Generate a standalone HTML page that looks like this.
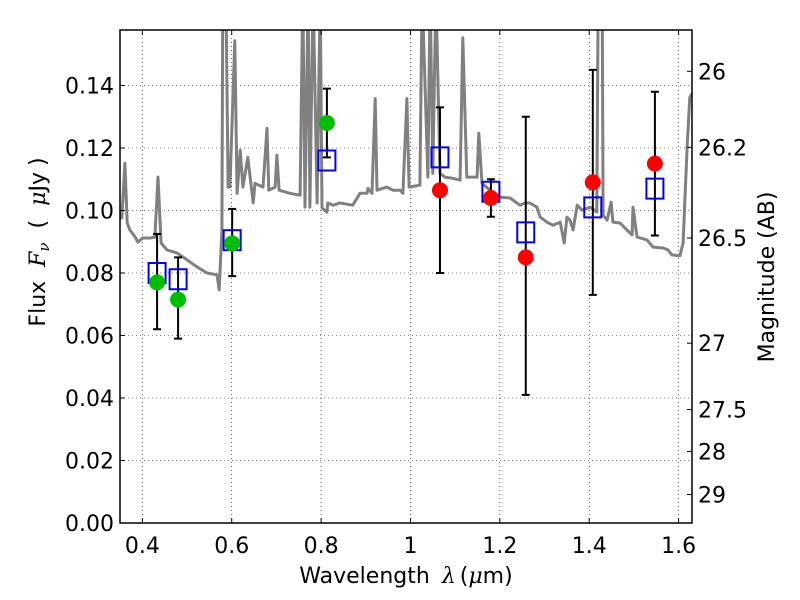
<!DOCTYPE html>
<html><head><meta charset="utf-8"><style>
html,body{margin:0;padding:0;background:#fff;}
svg{display:block;font-family:"DejaVu Sans","Liberation Sans",sans-serif;}
</style></head><body>
<svg id="chart" width="800" height="600" viewBox="0 0 800 600">
<rect width="800" height="600" fill="#fff"/>
<g id="grid"></g>
<g id="plot"></g>
<g id="axes"></g>
<text x="406" y="583" font-size="22" text-anchor="middle">Wavelength<tspan dx="12" font-family="DejaVu Serif" font-style="italic">λ</tspan><tspan dx="4">(</tspan><tspan font-family="DejaVu Serif" font-style="italic">μ</tspan>m)</text>
<text transform="translate(45,242) rotate(-90)" font-size="22" text-anchor="middle">Flux<tspan dx="14" font-family="DejaVu Serif" font-style="italic">F<tspan font-size="15" dy="4">ν</tspan></tspan><tspan dx="14" dy="-4">(</tspan><tspan dx="14" font-family="DejaVu Serif" font-style="italic">μ</tspan>Jy<tspan dx="6">)</tspan></text>
<text transform="translate(774,277) rotate(-90)" font-size="22" text-anchor="middle">Magnitude (AB)</text>
</svg>
<script>
const specX=[0.350,0.354,0.361,0.366,0.372,0.384,0.390,0.401,0.417,0.428,0.435,0.442,0.455,0.478,0.500,0.522,0.545,0.567,0.572,0.578,0.580,0.587,0.592,0.596,0.607,0.612,0.619,0.625,0.636,0.643,0.648,0.652,0.670,0.679,0.683,0.697,0.701,0.706,0.730,0.753,0.759,0.764,0.771,0.775,0.782,0.791,0.798,0.802,0.813,0.815,0.827,0.842,0.871,0.887,0.903,0.905,0.914,0.921,0.925,0.947,0.961,0.977,0.983,0.992,0.997,1.021,1.026,1.039,1.044,1.050,1.057,1.066,1.077,1.095,1.111,1.117,1.126,1.149,1.153,1.160,1.178,1.200,1.223,1.245,1.256,1.267,1.283,1.290,1.305,1.319,1.335,1.344,1.350,1.357,1.364,1.373,1.384,1.402,1.417,1.420,1.429,1.431,1.440,1.449,1.453,1.469,1.484,1.496,1.498,1.507,1.529,1.543,1.565,1.576,1.585,1.603,1.610,1.619,1.625,1.630];
const specY=[0.0979,0.0976,0.1151,0.0960,0.0938,0.0915,0.0899,0.0912,0.0912,0.0915,0.1107,0.0896,0.0874,0.0864,0.0842,0.0820,0.0800,0.0794,0.0746,0.0938,0.17,0.17,0.1075,0.1075,0.1543,0.1055,0.1193,0.1075,0.1170,0.1087,0.1024,0.1087,0.1075,0.1263,0.1065,0.1075,0.1177,0.1065,0.1055,0.1049,0.17,0.1011,0.17,0.1011,0.17,0.1024,0.17,0.1008,0.0995,0.1024,0.1017,0.1024,0.1017,0.1055,0.1055,0.1071,0.1055,0.1358,0.1065,0.1075,0.1065,0.1065,0.1055,0.1358,0.1075,0.1081,0.17,0.1107,0.17,0.1119,0.17,0.1119,0.1107,0.1103,0.1097,0.1553,0.1107,0.1107,0.1247,0.1087,0.1065,0.1043,0.1040,0.1017,0.1024,0.1024,0.1011,0.0979,0.0963,0.0953,0.0963,0.0896,0.0979,0.0969,0.0938,0.1017,0.1001,0.1011,0.0995,0.17,0.17,0.0985,0.0969,0.1027,0.0963,0.0960,0.0938,0.0922,0.1011,0.0915,0.0906,0.0883,0.0880,0.0874,0.0858,0.0855,0.0896,0.1202,0.1362,0.1374];
const obsX=[0.433,0.480,0.601,0.813,1.066,1.180,1.258,1.408,1.547];
const obsY=[0.077,0.0715,0.0895,0.128,0.1065,0.104,0.085,0.109,0.115];
const obsLo=[0.062,0.059,0.079,0.117,0.080,0.098,0.041,0.073,0.092];
const obsHi=[0.0925,0.085,0.1005,0.139,0.133,0.110,0.130,0.145,0.138];
const obsColor=['#00bf00','#00bf00','#00bf00','#00bf00','#ff0000','#ff0000','#ff0000','#ff0000','#ff0000'];
const modelY=[0.080,0.078,0.0905,0.116,0.117,0.106,0.093,0.101,0.107];
const xTicks=[0.4,0.6,0.8,1.0,1.2,1.4,1.6];
const xTickLabels=['0.4','0.6','0.8','1','1.2','1.4','1.6'];
const yTicks=[0,0.02,0.04,0.06,0.08,0.10,0.12,0.14];
const yTickLabels=['0.00','0.02','0.04','0.06','0.08','0.10','0.12','0.14'];
const magTicks=[26,26.2,26.5,27,27.5,28,29];
const magTickLabels=['26','26.2','26.5','27','27.5','28','29'];

const L=120,R=692,T=30,B=523,X0=0.35,X1=1.63,Y0=0,Y1=(523-30)/3125;
const sx=v=>L+(v-X0)/(X1-X0)*(R-L);
const sy=v=>B-(v-Y0)/(Y1-Y0)*(B-T);
const magToFlux=m=>Math.pow(10,(23.9-m)/2.5);
const NS='http://www.w3.org/2000/svg';
function mk(parent,tag,attrs){const e=document.createElementNS(NS,tag);for(const k in attrs)e.setAttribute(k,attrs[k]);parent.appendChild(e);return e;}
const grid=document.getElementById('grid'),plot=document.getElementById('plot'),axes=document.getElementById('axes');

const defs=mk(document.getElementById('chart'),'defs',{});
const cp=mk(defs,'clipPath',{id:'clip'});mk(cp,'rect',{x:L,y:T,width:R-L,height:B-T});
plot.setAttribute('clip-path','url(#clip)');

xTicks.forEach((t,i)=>{
  const g=mk(grid,'line',{x1:sx(t),x2:sx(t),y1:T,y2:B,stroke:'#000','stroke-width':0.6,'stroke-dasharray':'1,3'});
  
  
  [[B,B-5],[T,T+5]].forEach(p=>{const tk=mk(axes,'line',{x1:sx(t),x2:sx(t),y1:p[0],y2:p[1],stroke:'#000','stroke-width':1});
    
    });
  const lb=mk(axes,'text',{x:sx(t),y:B+30,'font-size':22,'text-anchor':'middle'});lb.textContent=xTickLabels[i];
  
  
});
yTicks.forEach((t,i)=>{
  const g=mk(grid,'line',{x1:L,x2:R,y1:sy(t),y2:sy(t),stroke:'#000','stroke-width':0.6,'stroke-dasharray':'1,3'});
  
  
  const tk=mk(axes,'line',{x1:L,x2:L+5,y1:sy(t),y2:sy(t),stroke:'#000','stroke-width':1});
  
  
  const lb=mk(axes,'text',{x:L-6,y:sy(t)+8,'font-size':22,'text-anchor':'end'});lb.textContent=yTickLabels[i];
  
  
});
magTicks.forEach((m,i)=>{
  const y=sy(magToFlux(m));
  const tk=mk(axes,'line',{x1:R,x2:R-5,y1:y,y2:y,stroke:'#000','stroke-width':1});
  
  
  const lb=mk(axes,'text',{x:R+6,y:y+8,'font-size':22});lb.textContent=magTickLabels[i];
  
  
});

let d='';specX.forEach((x,i)=>{d+=(i?'L':'M')+sx(x).toFixed(1)+','+sy(specY[i]).toFixed(1);});
const sp=mk(plot,'path',{d:d,fill:'none',stroke:'#808080','stroke-width':3,'stroke-linejoin':'round'});



obsX.forEach((x,i)=>{
  const cx=sx(x);
  const eb=mk(plot,'line',{x1:cx,x2:cx,y1:sy(obsLo[i]),y2:sy(obsHi[i]),stroke:'#000','stroke-width':2});
  
  
  [obsLo[i],obsHi[i]].forEach(v=>{const c=mk(plot,'line',{x1:cx-4,x2:cx+4,y1:sy(v),y2:sy(v),stroke:'#000','stroke-width':2});
    
    });
});
obsX.forEach((x,i)=>{
  const cx=sx(x);
  const sq=mk(plot,'rect',{x:cx-8.5,y:sy(modelY[i])-10,width:17,height:20,fill:'none',stroke:'#0000ff','stroke-width':2});
  
  
});
obsX.forEach((x,i)=>{
  const c=mk(plot,'circle',{cx:sx(x),cy:sy(obsY[i]),r:8,fill:obsColor[i]});
  
  
});
const fr=mk(axes,'rect',{x:L,y:T,width:R-L,height:B-T,fill:'none',stroke:'#000','stroke-width':1.5});


</script>
</body></html>
